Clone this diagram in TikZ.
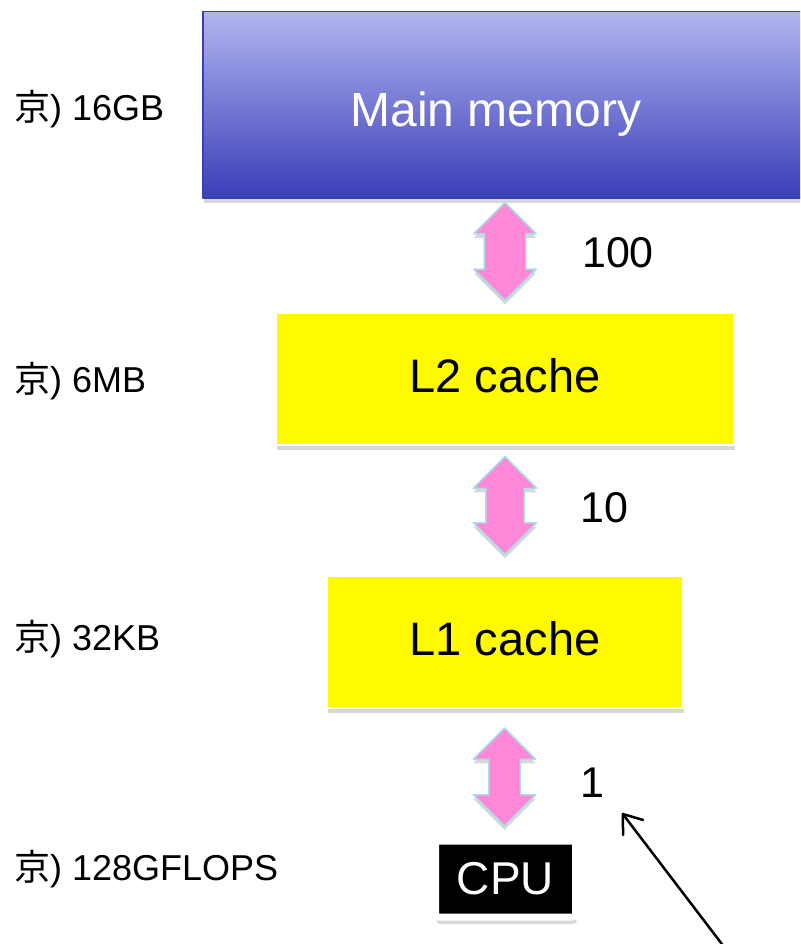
\documentclass[tikz,border=0pt]{standalone}
\usepackage{fontspec}
\setmainfont{Liberation Sans}
\newfontfamily\jpfont{Noto Sans CJK JP}
\usetikzlibrary{shapes.arrows,shadows,arrows.meta}

\definecolor{memtop}{HTML}{B2B5EF}
\definecolor{membot}{HTML}{3A3EB8}
\definecolor{memedge}{HTML}{3A3FB2}
\definecolor{cachefill}{HTML}{FFFA00}
\definecolor{busfill}{HTML}{FF88D8}
\definecolor{busedge}{HTML}{A8DEE6}

\begin{document}
\begin{tikzpicture}[
  x=1pt, y=-1pt,
  line cap=round, line join=round,
  every node/.style={inner sep=0pt},
  boxshadow/.style={drop shadow={shadow xshift=1pt, shadow yshift=-5pt, opacity=.22, fill=black!70}},
  membox/.style={draw=memedge, line width=1.5pt, top color=memtop, bottom color=membot, boxshadow},
  memname/.style={anchor=base, text=white, font=\fontsize{48}{50}\selectfont},
  cache/.style={draw=white, line width=1.5pt, fill=cachefill, boxshadow,
    text height=34pt, text depth=8pt, font=\fontsize{47}{50}\selectfont},
  bus/.style={double arrow, rotate=90, fill=busfill, draw=busedge, line width=1.5pt,
    minimum height=98pt, double arrow tip angle=90,
    drop shadow={shadow xshift=0pt, shadow yshift=-4pt, opacity=.22, fill=black!70}},
  rate/.style={anchor=base, font=\fontsize{43}{46}\selectfont},
  size/.style={anchor=base west, font=\fontsize{36}{40}\selectfont},
  cpu/.style={fill=black, draw=white, line width=7pt, rounded corners=3pt,
    minimum width=140pt, minimum height=76pt, text=white, font=\fontsize{46}{48}\selectfont,
    drop shadow={shadow xshift=1pt, shadow yshift=-7pt, opacity=.22, fill=black!70}},
  pointer/.style={line width=2.5pt, -{Straight Barb[length=17pt, width=25pt, round]}},
]
\useasboundingbox (0,0) rectangle (800,944);
\clip (0,0) rectangle (800,944);

% memory hierarchy
\node[membox, anchor=north west, minimum width=620pt, minimum height=186pt] (mem) at (202,11) {};
\node[memname] (memlbl) at (496,127) {Main memory};
\node[cache, minimum width=458pt, minimum height=132pt] (l2) at (505,379) {L2 cache};
\node[cache, minimum width=356pt, minimum height=132pt] (l1) at (505,642) {L1 cache};
\node[cpu] (cpu) at (505.5,879) {CPU};

% transfer between levels
\node[bus, inner ysep=20pt, double arrow head extend=10.5pt] (bus1) at (505,251.5) {};
\node[bus, inner ysep=18.5pt, double arrow head extend=12.5pt] (bus2) at (505,505.5) {};
\node[bus, inner ysep=15pt, double arrow head extend=15.5pt] (bus3) at (504.5,777) {};
\node[rate] (r1) at (618,267) {100};
\node[rate] (r2) at (604,522) {10};
\node[rate] (r3) at (592,797) {1};

% sizes
\node[size] (s1) at (14,121) {{\jpfont 京}) 16GB};
\node[size] (s2) at (14,392) {{\jpfont 京}) 6MB};
\node[size] (s3) at (14,650) {{\jpfont 京}) 32KB};
\node[size] (s4) at (14,880) {{\jpfont 京}) 128GFLOPS};

\coordinate (foot) at (731,956);
\coordinate (tip) at (622,813);
\draw[pointer] (foot) -- (tip);
\end{tikzpicture}
\end{document}
